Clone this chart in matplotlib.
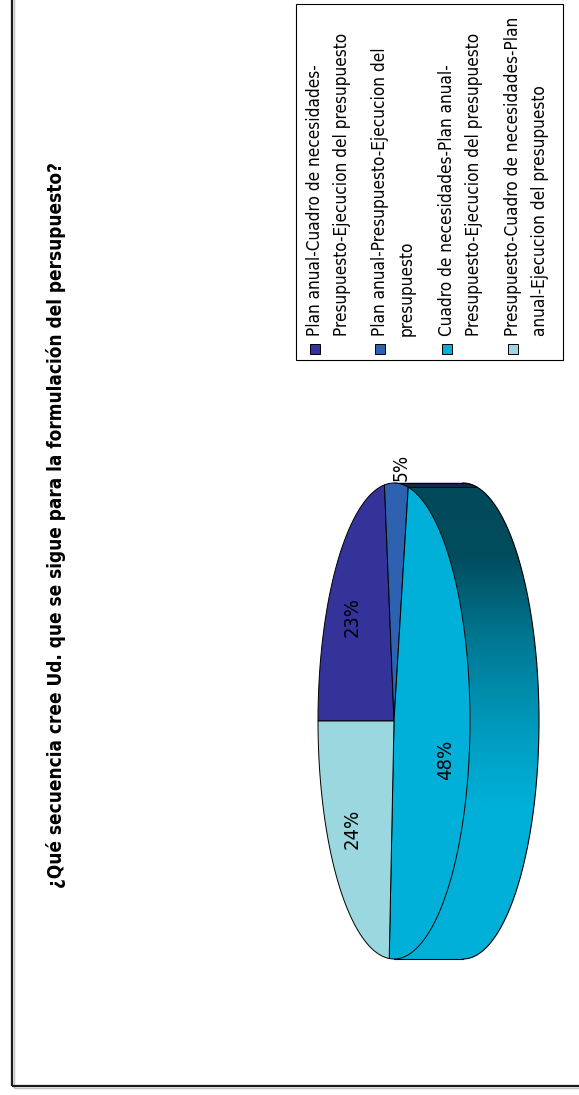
import os
import numpy as np
import matplotlib
matplotlib.use("Agg")
import matplotlib.pyplot as plt
from matplotlib.patches import Polygon, Rectangle
from matplotlib import font_manager as fm
import matplotlib.colors as mcolors

# ---------------- data ----------------
title = "¿Qué secuencia cree Ud. que se sigue para la formulación del persupuesto?"
legend_lines = [
    ["Plan anual-Cuadro de necesidades-", "Presupuesto-Ejecucion del presupuesto"],
    ["Plan anual-Presupuesto-Ejecucion del", "presupuesto"],
    ["Cuadro de necesidades-Plan anual-", "Presupuesto-Ejecucion del presupuesto"],
    ["Presupuesto-Cuadro de necesidades-Plan", "anual-Ejecucion del presupuesto"],
]
values = [23, 5, 48, 24]
pct_labels = ["23%", "5%", "48%", "24%"]
colors = ["#333399", "#2E62B0", "#00B0D8", "#9AD7DF"]

# ---------------- fonts ----------------
def pick_by_file(files):
    avail = {os.path.basename(f.fname).lower(): f.fname for f in fm.fontManager.ttflist}
    for fn in files:
        if fn in avail:
            return fm.FontProperties(fname=avail[fn])
    return None

fp_reg = pick_by_file(["dejavusanscondensed.ttf", "liberationsansnarrow-regular.ttf",
                       "liberationsans-regular.ttf"]) or fm.FontProperties(family="DejaVu Sans")
fp_bold = pick_by_file(["liberationsansnarrow-bold.ttf", "dejavusanscondensed-bold.ttf",
                        "liberationsans-bold.ttf"]) or fm.FontProperties(family="DejaVu Sans", weight="bold")

# ---------------- figure ----------------
W, H = 579, 1095
fig = plt.figure(figsize=(W / 100, H / 100), dpi=100)
ax = fig.add_axes([0, 0, 1, 1])
renderer = fig.canvas.get_renderer()


def fit_text(x, y, s, fp, target_len, **kw):
    t = ax.text(x, y, s, fontproperties=fp.copy(), rotation=90, **kw)
    t.set_fontsize(12)
    L = t.get_window_extent(renderer).height
    t.set_fontsize(12 * target_len / L)
    return t


# ---------------- 3D pie ----------------
cx, cy, rx, ry, depth = 394, 721, 76, 238, 69


def proj(theta_deg, r=1.0):
    t = np.radians(theta_deg)
    return cx - rx * r * np.sin(t), cy - ry * r * np.cos(t)


total = float(sum(values))
cum = np.concatenate([[0], np.cumsum(values)]) / total * 360.0
starts = 90 - cum[:-1]
ends = 90 - cum[1:]


def shade(py):
    t = (py - (cy - ry)) / (2 * ry)
    return np.interp(t, [0, 0.15, 0.33, 0.52, 0.68, 1], [0.42, 0.43, 0.68, 0.88, 1.0, 1.0])


# side wall of the big slice as a shaded gradient clipped to the wall outline
thb = np.linspace(-180, 0, 300)
tx, ty = proj(thb)
wall = list(zip(tx, ty)) + list(zip(tx[::-1] + depth, ty[::-1]))
wall_patch = Polygon(wall, closed=True, facecolor="none", edgecolor="none")
ax.add_patch(wall_patch)
rows = np.linspace(cy - ry, cy + ry, 500)
base_big = np.array(mcolors.to_rgb(colors[2]))
grad = np.clip(base_big[None, :] * shade(rows)[:, None], 0, 1)[:, None, :]
im = ax.imshow(grad, extent=(cx - rx - 2, cx + rx + depth + 2, cy + ry, cy - ry), origin="upper",
               aspect="auto", interpolation="bilinear", zorder=1)
im.set_clip_path(wall_patch)

# side walls of the other slices (only the visible part)
for i in range(len(values)):
    if i == 2:
        continue
    lo, hi = ends[i], starts[i]
    th = np.linspace(lo, hi, 200)
    th = th[np.sin(np.radians(th)) < 0]
    if len(th) < 2:
        continue
    xs, ys = proj(th)
    pts = list(zip(xs, ys)) + list(zip(xs[::-1] + depth, ys[::-1]))
    c = np.clip(np.array(mcolors.to_rgb(colors[i])) * shade(ys.mean()), 0, 1)
    ax.add_patch(Polygon(pts, closed=True, facecolor=c, edgecolor=c, lw=0.3, zorder=1.5))

# side outline
bx, by = proj(thb)
ax.plot(bx + depth, by, color="black", lw=0.8, zorder=2)
for tb in [0, -180]:
    x0, y0 = proj(tb)
    ax.plot([x0, x0 + depth], [y0, y0], color="black", lw=0.8, zorder=2)
for i in range(len(values)):
    tb = ends[i]
    if np.sin(np.radians(tb)) < -1e-6:
        x0, y0 = proj(tb)
        ax.plot([x0, x0 + depth], [y0, y0], color="black", lw=0.5, zorder=2)

# top face
for i in range(len(values)):
    th = np.linspace(starts[i], ends[i], 120)
    xs, ys = proj(th)
    pts = [(cx, cy)] + list(zip(xs, ys))
    ax.add_patch(Polygon(pts, closed=True, facecolor=colors[i], edgecolor="black", lw=0.7, zorder=3))

# percentage labels
label_pos = [(352, 617), (401, 467), (446, 760), (352, 829)]
for i, lab in enumerate(pct_labels):
    x, y = label_pos[i]
    fit_text(x, y, lab, fp_reg, 40 if len(lab) == 3 else 27, ha="center", va="center", zorder=5)

# outer frame
ax.plot([14, 14], [-5, 1088], color="#c0c0c0", lw=1.0, solid_capstyle="butt")
ax.plot([14, 600], [1088, 1088], color="#c0c0c0", lw=1.0, solid_capstyle="butt")
ax.plot([12, 12], [-5, 1086], color="#1a1a1a", lw=1.6, solid_capstyle="butt")
ax.plot([12, 600], [1086, 1086], color="#1a1a1a", lw=1.6, solid_capstyle="butt")

# title
fit_text(56, 525, title, fp_bold, 725, ha="center", va="center")

# ---------------- legend ----------------
ax.add_patch(Rectangle((296, 4), 563 - 296, 360 - 4, facecolor="white", edgecolor="black", lw=0.8, zorder=4))
entry_x = [315, 380, 447, 513]
line_gap = 27
ref = fit_text(entry_x[0], 336, legend_lines[0][0], fp_reg, 272, ha="left", va="center",
               rotation_mode="anchor", zorder=5)
leg_fs = ref.get_fontsize()
ref.remove()
for i, lines in enumerate(legend_lines):
    ax.add_patch(Rectangle((entry_x[i] - 5, 344), 10, 10, facecolor=colors[i], edgecolor="black",
                           lw=0.7, zorder=5))
    for j, ln in enumerate(lines):
        ax.text(entry_x[i] + j * line_gap, 336, ln, fontproperties=fp_reg, fontsize=leg_fs,
                rotation=90, rotation_mode="anchor", ha="left", va="center", zorder=5)

ax.set_xlim(0, W)
ax.set_ylim(H, 0)
ax.axis("off")
fig.savefig("out.png", dpi=100)
